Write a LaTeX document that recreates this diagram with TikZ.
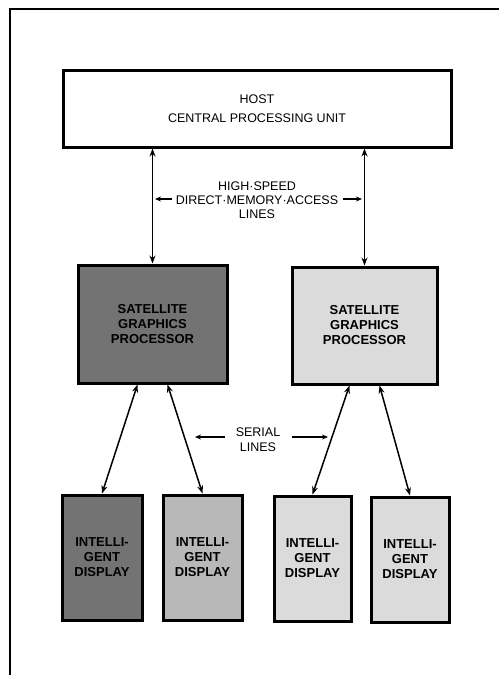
\documentclass[tikz,border=0pt]{standalone}
\usepackage{fontspec}
\setmainfont{Liberation Sans}
\usetikzlibrary{arrows.meta}

\definecolor{darkfill}{gray}{0.45}
\definecolor{midfill}{gray}{0.72}
\definecolor{lightfill}{gray}{0.86}

\begin{document}
\begin{tikzpicture}[x=1pt,y=-1pt,
    box/.style={draw,line width=3pt,inner sep=0pt,align=center},
    boxtext/.style={font=\fontsize{13}{15}\selectfont\bfseries},
    lbl/.style={align=center,inner sep=0pt,font=\fontsize{12.5}{14}\selectfont},
    link/.style={line width=1.5pt,{Stealth[length=8pt,width=6pt]}-{Stealth[length=8pt,width=6pt]}},
    lblarr/.style={line width=1.1pt,-{Stealth[length=6pt,width=5pt]}}]
  \useasboundingbox (0,0) rectangle (499,675);
  % frame
  \draw[line width=2.8pt] (499,9) -- (10,9) -- (10,675);
  % host and processors
  \node[box,minimum width=388pt,minimum height=77pt,font=\fontsize{12.5}{19}\selectfont]
    (host) at (257,108.5) {HOST\\CENTRAL PROCESSING UNIT};
  \node[box,boxtext,fill=darkfill,minimum width=149pt,minimum height=118pt]
    (sgpl) at (152.5,324) {SATELLITE\\GRAPHICS\\PROCESSOR};
  \node[box,boxtext,fill=lightfill,minimum width=145pt,minimum height=117pt]
    (sgpr) at (364.5,325.5) {SATELLITE\\GRAPHICS\\PROCESSOR};
  % displays
  \node[box,boxtext,fill=darkfill,minimum width=80pt,minimum height=125pt]
    (dispa) at (102,557.5) {INTELLI-\\GENT\\DISPLAY};
  \node[box,boxtext,fill=midfill,minimum width=79pt,minimum height=125pt]
    (dispb) at (202.5,557.5) {INTELLI-\\GENT\\DISPLAY};
  \node[box,boxtext,fill=lightfill,minimum width=77pt,minimum height=125pt]
    (dispc) at (312.5,558.5) {INTELLI-\\GENT\\DISPLAY};
  \node[box,boxtext,fill=lightfill,minimum width=78pt,minimum height=125pt]
    (dispd) at (410,559.5) {INTELLI-\\GENT\\DISPLAY};
  % labels
  \node[lbl] (dmalbl) at (257,200) {HIGH·SPEED\\DIRECT·MEMORY·ACCESS\\LINES};
  \node[lbl,font=\fontsize{12.5}{15}\selectfont] (seriallbl) at (258,439.5) {SERIAL\\LINES};
  % DMA lines
  \draw[link] (host.south -| sgpl.north) -- (sgpl.north);
  \draw[link] (host.south -| sgpr.north) -- (sgpr.north);
  % serial lines
  \draw[link] ([xshift=-15pt]sgpl.south) -- (dispa.north);
  \draw[link] ([xshift=15pt]sgpl.south) -- (dispb.north);
  \draw[link] ([xshift=-15pt]sgpr.south) -- (dispc.north);
  \draw[link] ([xshift=15pt]sgpr.south) -- (dispd.north);
  % label pointers
  \coordinate (dmal) at (155,199);
  \coordinate (dmar) at (362,199);
  \coordinate (serl) at (195,437);
  \coordinate (serr) at (328,437);
  \draw[lblarr] ([xshift=-4pt]dmalbl.west |- dmal) -- (dmal);
  \draw[lblarr] ([xshift=5pt]dmalbl.east |- dmar) -- (dmar);
  \draw[lblarr] ([xshift=-11pt]seriallbl.west |- serl) -- (serl);
  \draw[lblarr] ([xshift=12pt]seriallbl.east |- serr) -- (serr);
\end{tikzpicture}
\end{document}
